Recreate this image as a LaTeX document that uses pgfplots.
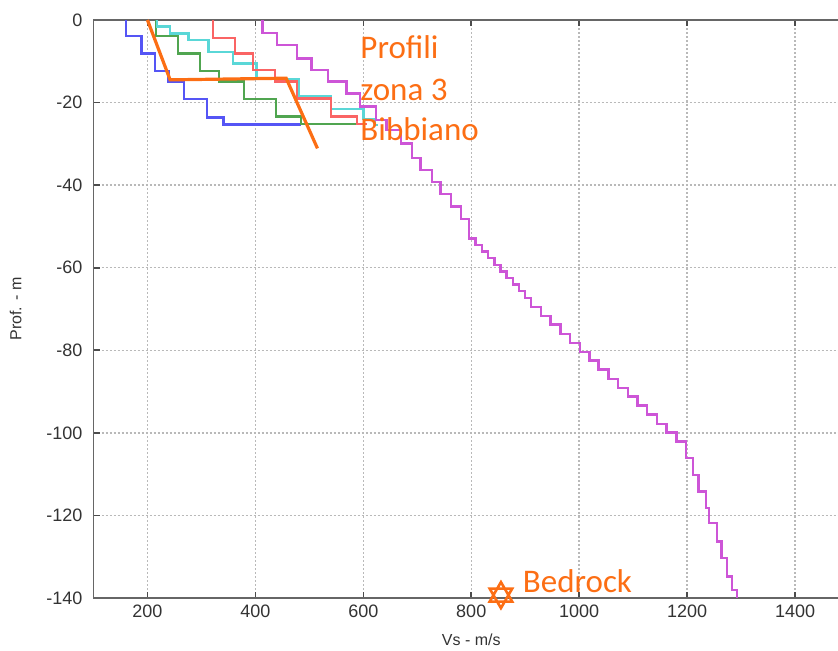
\documentclass[border=0pt]{standalone}
\usepackage{pgfplots}
\pgfplotsset{compat=1.18}
\usepackage{fontspec}
\setmainfont{Liberation Sans}
\newfontfamily\calib{Carlito}
\definecolor{cblue}{RGB}{85,85,245}
\definecolor{cgreen}{RGB}{80,165,80}
\definecolor{ccyan}{RGB}{90,215,215}
\definecolor{cred}{RGB}{250,100,100}
\definecolor{cpurple}{RGB}{205,85,215}
\definecolor{corange}{RGB}{252,110,20}
\pgfdeclareplotmark{hexagram}{%
  \pgfpathmoveto{\pgfqpointpolar{90}{\pgfplotmarksize}}%
  \pgfpathlineto{\pgfqpointpolar{210}{\pgfplotmarksize}}%
  \pgfpathlineto{\pgfqpointpolar{330}{\pgfplotmarksize}}%
  \pgfpathclose
  \pgfpathmoveto{\pgfqpointpolar{270}{\pgfplotmarksize}}%
  \pgfpathlineto{\pgfqpointpolar{30}{\pgfplotmarksize}}%
  \pgfpathlineto{\pgfqpointpolar{150}{\pgfplotmarksize}}%
  \pgfpathclose
  \pgfusepathqstroke}
\begin{document}
\begin{tikzpicture}
\begin{axis}[
  at={(0,0)}, anchor=south west,
  scale only axis, width=377.75pt, height=289pt,
  xmin=100, xmax=1500, ymin=-140, ymax=0,
  xtick={200,400,...,1400}, ytick={-140,-120,...,0},
  /pgf/number format/assume math mode=true,
  /pgf/number format/1000 sep={},
  ticklabel style={font=\fontsize{9}{10}\selectfont, text=black!80},
  yticklabel style={xshift=-2pt},
  grid=major,
  grid style={gray!55, line width=0.7pt, dash pattern=on 1pt off 1pt},
  axis line style={black!60, line width=0.9pt},
  tick style={black!70, line width=0.8pt},
  major tick length=3pt, tick align=inside,
  xlabel={Vs - m/s}, ylabel={Prof. - m},
  label style={font=\fontsize{8}{9}\selectfont, text=black!80},
  xlabel style={at={(axis description cs:0.5,-0.0727)}, anchor=center},
  ylabel style={at={(axis description cs:-0.103,0.5)}, anchor=center},
  clip mode=individual,
]
\addplot[cblue, line width=1.2pt] coordinates {
(160,0)(160,-3.9)(189,-3.9)(189,-8.1)(214,-8.1)(214,-12.3)(239,-12.3)(239,-14.9)
(268,-14.9)(268,-19.2)(310,-19.2)(310,-23.6)(341,-23.6)(341,-25.3)(485,-25.3)};
\addplot[cgreen, line width=1.2pt] coordinates {
(216,0)(216,-3.9)(257,-3.9)(257,-8.1)(297,-8.1)(297,-12.3)(333,-12.3)(333,-14.9)
(379,-14.9)(379,-19.2)(438,-19.2)(438,-23.4)(485,-23.4)(485,-25.2)(592,-25.2)};
\addplot[ccyan, line width=1.2pt] coordinates {
(218,0)(218,-1.6)(242,-1.6)(242,-3.3)(276,-3.3)(276,-4.8)(313,-4.8)(313,-7.7)
(359,-7.7)(359,-10.5)(402,-10.5)(402,-14.3)(480,-14.3)(480,-18.5)(540,-18.5)
(540,-21.6)(600,-21.6)(600,-24)(622,-24)(622,-25.4)(628,-25.4)};
\addplot[cred, line width=1.2pt] coordinates {
(321,0)(321,-4.4)(362,-4.4)(362,-8.1)(396,-8.1)(396,-12.1)(436,-12.1)(436,-14.9)
(477,-14.9)(477,-19.0)(540,-19.0)(540,-23.4)(588,-23.4)(588,-25.2)(606,-25.2)};
\addplot[cpurple, line width=1.2pt] coordinates {
(413,0)(413,-3.2)(440,-3.2)(440,-6.1)(477,-6.1)(477,-9.3)(504,-9.3)(504,-12.1)
(535,-12.1)(535,-14.9)(569,-14.9)(569,-17.8)(594,-17.8)(594,-21)(624,-21)(624,-24.2)
(643,-24.2)(643,-26.6)(670,-26.6)(670,-29.9)(690,-29.9)(690,-33.5)(706,-33.5)(706,-36.3)
(727,-36.3)(727,-39.2)(743,-39.2)(743,-42.1)(762,-42.1)(762,-45.2)(781,-45.2)(781,-48.2)
(796,-48.2)(796,-51.3)
(796,-52.9)(808,-52.9)(808,-54.5)(820,-54.5)(820,-56.1)(831,-56.1)(831,-57.7)(843,-57.7)
(843,-59.3)(854,-59.3)(854,-60.9)(865,-60.9)(865,-62.5)(877,-62.5)(877,-64.1)(888,-64.1)
(888,-65.7)(900,-65.7)(900,-67.3)(911,-67.3)
(911,-69.5)(929,-69.5)(929,-71.7)(947,-71.7)(947,-73.8)(965,-73.8)(965,-76.0)(983,-76.0)
(983,-78.2)(1001,-78.2)(1001,-80.4)(1019,-80.4)(1019,-82.5)(1036,-82.5)(1036,-84.7)(1054,-84.7)
(1054,-86.9)(1072,-86.9)(1072,-89.1)(1090,-89.1)(1090,-91.2)(1108,-91.2)(1108,-93.4)(1126,-93.4)
(1126,-95.6)(1144,-95.6)(1144,-97.8)(1162,-97.8)(1162,-99.9)(1180,-99.9)(1180,-102.1)(1198,-102.1)
(1198,-106.1)(1211,-106.1)(1211,-110.2)(1221,-110.2)(1221,-114.2)(1235,-114.2)(1235,-118.2)(1241,-118.2)
(1241,-121.9)(1255,-121.9)(1255,-126.3)(1264,-126.3)(1264,-130.3)(1274,-130.3)(1274,-134.8)(1283,-134.8)
(1283,-138)(1292,-138)(1292,-140)};
\addplot[corange, line width=1.6pt] coordinates {(200,0)(242,-14.5)(457,-14.1)(515,-31.1)};
\addplot[corange, only marks, mark=hexagram, mark size=6.5pt, mark options={line width=1.3pt}] coordinates {(855,-139.3)};
\node[anchor=base west, text=corange, font=\calib\fontsize{16.5}{19}\selectfont, inner sep=0pt] at (axis cs:594,-9.3) {Profili};
\node[anchor=base west, text=corange, font=\calib\fontsize{16.5}{19}\selectfont, inner sep=0pt] at (axis cs:594,-19.4) {zona 3};
\node[anchor=base west, text=corange, font=\calib\fontsize{16.5}{19}\selectfont, inner sep=0pt] at (axis cs:594,-29.1) {Bibbiano};
\node[anchor=base west, text=corange, font=\calib\fontsize{16.5}{19}\selectfont, inner sep=0pt] at (axis cs:895,-138.7) {Bedrock};
\end{axis}
\pgfresetboundingbox
\useasboundingbox (-46.75pt,-26.5pt) rectangle (372.25pt,299pt);
\end{tikzpicture}
\end{document}
